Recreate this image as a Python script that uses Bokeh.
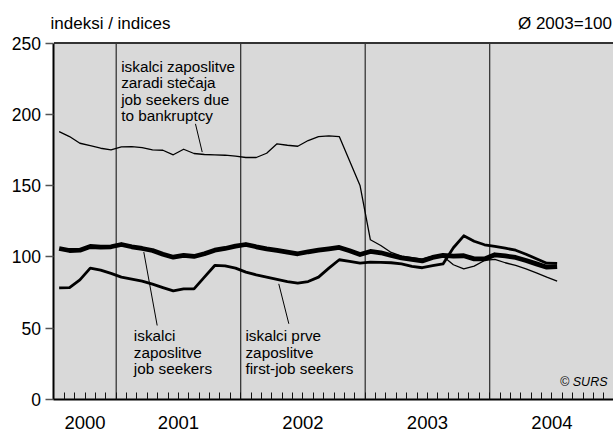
from bokeh.plotting import figure
from bokeh.models import Range1d, FixedTicker, Label, BoxAnnotation
from bokeh.embed import file_html
from bokeh.resources import INLINE

# ---- data (monthly, July 2000 .. July 2004; average 2003 = 100) ----
bankruptcy = [187.9, 184.4, 179.7, 178.1, 176.2, 175.1,
              177.2, 177.4, 176.7, 175.1, 174.8, 171.6, 175.5, 172.5, 171.8, 171.6, 171.3, 170.6,
              169.7, 169.7, 172.7, 179.3, 178.3, 177.6, 181.6, 184.4, 184.9, 184.4, 167.3, 150.1,
              112.0, 108.0, 103.1, 100.5, 99.5, 98.5, 100.5, 100.5, 94.5, 91.6, 93.5, 97.5,
              98.2, 95.9, 94.0, 91.6, 88.8, 85.8, 83.0]
job_seekers = [105.9, 104.5, 104.7, 107.3, 106.8, 107.1,
               108.7, 107.1, 105.9, 104.5, 101.9, 99.8, 101.0, 100.3, 102.2, 104.7, 105.9, 107.5,
               108.7, 107.1, 105.7, 104.5, 103.3, 102.2, 103.6, 104.7, 105.7, 106.6, 104.3, 101.7,
               103.8, 102.9, 101.0, 99.3, 98.2, 97.2, 99.6, 101.0, 100.5, 100.8, 98.6, 98.6,
               101.5, 100.7, 99.6, 97.5, 95.1, 92.8, 93.2]
first_job = [78.3, 78.5, 83.9, 92.1, 90.7, 88.4,
             85.8, 84.4, 83.0, 80.9, 78.5, 76.2, 77.6, 77.6, 85.8, 94.0, 93.7, 92.1,
             89.3, 87.4, 85.8, 84.2, 82.7, 81.6, 82.7, 85.8, 92.1, 98.0, 96.8, 95.6,
             96.3, 96.1, 95.9, 95.1, 93.3, 92.4, 93.8, 95.1, 106.4, 114.8, 111.0, 108.5,
             107.3, 106.1, 104.7, 101.9, 98.7, 95.6, 95.4]
years = ["2000", "2001", "2002", "2003", "2004"]
year_months = [6, 12, 12, 12, 12]          # months of each year on the axis (from July 2000)
y_ticks = [0, 50, 100, 150, 200, 250]
y_top = 250

# month index positions (centre of each month)
x = [i + 0.5 for i in range(len(job_seekers))]

bounds, centres, acc = [], [], 0
for n in year_months:
    centres.append(acc + n / 2)
    acc += n
    bounds.append(acc)
year_bounds = bounds[:-1]
n_months = acc

FONT = "Liberation Sans"
W, H = 613, 432
PX_X, PX_Y = 10.375, 1.426        # pixels per month / per index point
X0_PX, Y0_PX = 53.45, 399.0       # pixel position of the axes origin
x_start = -X0_PX / PX_X
x_end = x_start + W / PX_X
y_start = -(H - Y0_PX) / PX_Y
y_end = y_start + H / PX_Y

p = figure(width=W, height=H, x_range=Range1d(x_start, x_end), y_range=Range1d(y_start, y_end),
           output_backend="svg", toolbar_location=None,
           min_border=0, min_border_left=0, min_border_right=0, min_border_top=0, min_border_bottom=0)
p.background_fill_color = "white"
p.border_fill_color = "white"
p.outline_line_color = None
p.xgrid.visible = False
p.ygrid.visible = False

# grey plotting area
p.add_layout(BoxAnnotation(left=0, bottom=0, top=y_top, fill_color="#d9d9d9", fill_alpha=1,
                           line_color=None, level="underlay"))

# year separators
p.segment(x0=year_bounds, y0=[0] * len(year_bounds), x1=year_bounds, y1=[y_top] * len(year_bounds),
          line_color="#2a2a2a", line_width=1.2)

# x axis at y = 0: monthly ticks pointing in, year labels
xa = p.xaxis[0]
xa.fixed_location = 0
xa.bounds = (0, x_end)
xa.ticker = FixedTicker(ticks=list(range(0, n_months)))
overrides = {i: "" for i in range(0, n_months)}
for c, yname in zip(centres, years):
    overrides[int(c)] = yname
xa.major_label_overrides = overrides
xa.major_tick_in = 7
xa.major_tick_out = 0
xa.minor_tick_line_color = None
xa.major_tick_line_color = "#111111"
xa.major_tick_line_width = 1
xa.axis_line_color = "black"
xa.axis_line_width = 2
xa.major_label_standoff = 16
xa.major_label_text_font = FONT
xa.major_label_text_font_size = "18.5px"
xa.major_label_text_color = "black"

# y axis at x = 0
ya = p.yaxis[0]
ya.fixed_location = 0
ya.bounds = (0, y_top)
ya.ticker = FixedTicker(ticks=y_ticks)
ya.major_tick_in = 0
ya.major_tick_out = 8
ya.minor_tick_line_color = None
ya.major_tick_line_color = "#555555"
ya.major_tick_line_width = 1.5
ya.axis_line_color = "black"
ya.axis_line_width = 2
ya.major_label_standoff = 5
ya.major_label_text_font = FONT
ya.major_label_text_font_size = "17.5px"
ya.major_label_text_color = "black"

# top border of the grey area
p.segment(x0=[0], y0=[y_top], x1=[x_end], y1=[y_top], line_color="#333333", line_width=2)

# series
p.line(x, bankruptcy, line_color="black", line_width=1.3, line_join="round")
p.line(x, first_job, line_color="black", line_width=2.8, line_join="round")
p.line(x, job_seekers, line_color="black", line_width=4.8, line_join="round")

# leader lines
p.segment(x0=[13.64, 8.66, 21.67], y0=[193.3, 103.4, 81.1],
          x1=[14.29, 9.95, 22.64], y1=[173.5, 51.9, 53.1],
          line_color="black", line_width=1)

# annotation texts
ann_kw = dict(text_font=FONT, text_font_size="15.3px", text_color="black",
              text_baseline="top", text_align="left", text_line_height=0.96)
p.add_layout(Label(x=6.48, y=239.5, text="iskalci zaposlitve\nzaradi stečaja\njob seekers due\nto bankruptcy", **ann_kw))
p.add_layout(Label(x=7.7, y=50.5, text="iskalci\nzaposlitve\njob seekers", **ann_kw))
p.add_layout(Label(x=18.46, y=50.5, text="iskalci prve\nzaposlitve\nfirst-job seekers", **ann_kw))

p.add_layout(Label(x=607, y=51, x_units="screen", y_units="screen", text="© SURS",
                   text_font=FONT, text_font_size="12.5px", text_font_style="italic",
                   text_align="right", text_baseline="alphabetic", text_color="black"))

# header texts
p.add_layout(Label(x=50, y=409, x_units="screen", y_units="screen", text="indeksi / indices",
                   text_font=FONT, text_font_size="17px", text_align="left",
                   text_baseline="alphabetic", text_color="black"))
p.add_layout(Label(x=611.5, y=409, x_units="screen", y_units="screen", text="Ø 2003=100",
                   text_font=FONT, text_font_size="17px", text_align="right",
                   text_baseline="alphabetic", text_color="black"))

open("out.html", "w").write(file_html(p, INLINE))
